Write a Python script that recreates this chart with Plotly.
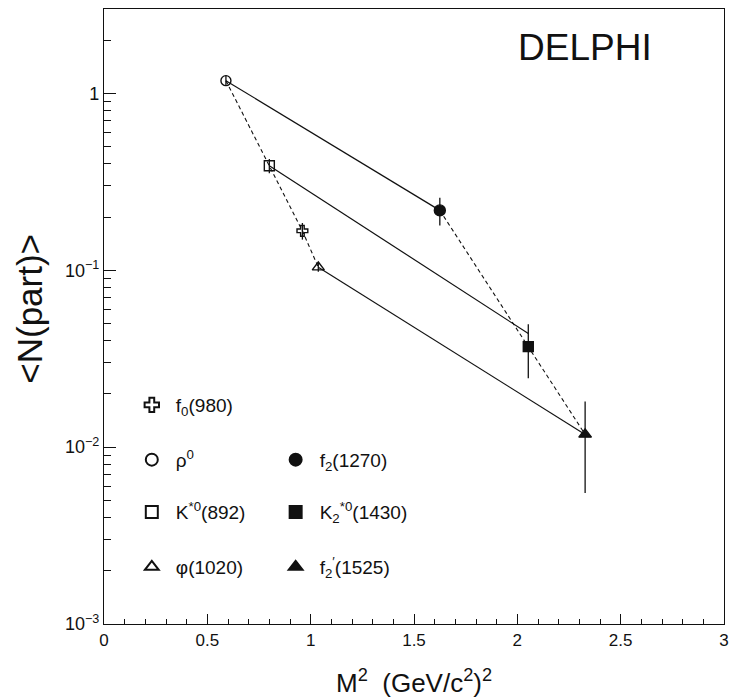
import plotly.graph_objects as go

# Mean multiplicity per hadronic event vs. squared mass, DELPHI
particle_labels = [
    "\u03c1<sup>0</sup>",
    "K<sup>*0</sup>(892)",
    "f<sub>0</sub>(980)",
    "\u03c6(1020)",
    "f<sub>2</sub>(1270)",
    "K<sub>2</sub><sup>*0</sup>(1430)",
    "f<sub>2</sub><sup>\u2032</sup>(1525)",
]
m2_values = [0.59, 0.80, 0.96, 1.037, 1.625, 2.053, 2.328]
n_part = [1.18, 0.39, 0.167, 0.104, 0.218, 0.037, 0.0118]
n_part_err = [0.08, 0.036, 0.018, 0.006, 0.039, 0.0125, 0.0063]
marker_symbols = ["circle-open", "square-open", "cross-open", "triangle-up-open",
                  "circle", "square", "triangle-up"]
marker_sizes = [10, 10, 9, 10.5, 11, 10, 11]

# indices of the light states and of their tensor partners, ordered in M^2
light_idx = [0, 1, 2, 3]
tensor_idx = [4, 5, 6]

# solid lines joining each light state to its tensor partner
trend_x_start = [0.59, 0.80, 1.037]
trend_y_start = [1.18, 0.39, 0.104]
trend_x_end = [1.625, 2.053, 2.328]
trend_y_end = [0.218, 0.0439, 0.0118]

# legend placement (paper coordinates) for each particle
legend_x = [0.0384, 0.0384, 0.0384, 0.0384, 0.2704, 0.2704, 0.2704]
legend_y = [0.267, 0.182, 0.356, 0.0927, 0.267, 0.182, 0.0927]

y_tick_vals = [1e-3, 1e-2, 1e-1, 1]
y_tick_text = ["10<sup>\u22123</sup>", "10<sup>\u22122</sup>", "10<sup>\u22121</sup>", "1"]
x_tick_vals = [0, 0.5, 1, 1.5, 2, 2.5, 3]
x_tick_text = ["0", "0.5", "1", "1.5", "2", "2.5", "3"]

FONT = "Liberation Sans, Arial, Helvetica, sans-serif"
BLACK = "#111111"

fig = go.Figure()

for xs, ys, xe, ye in zip(trend_x_start, trend_y_start, trend_x_end, trend_y_end):
    fig.add_trace(go.Scatter(x=[xs, xe], y=[ys, ye], mode="lines",
                             line=dict(color=BLACK, width=1.2),
                             showlegend=False, hoverinfo="skip"))

for group in (light_idx, tensor_idx):
    fig.add_trace(go.Scatter(x=[m2_values[i] for i in group],
                             y=[n_part[i] for i in group],
                             mode="lines",
                             line=dict(color=BLACK, width=1.1, dash="4px,3px"),
                             showlegend=False, hoverinfo="skip"))

for i, label in enumerate(particle_labels):
    legend_name = "legend" if i == 0 else f"legend{i + 1}"
    fig.add_trace(go.Scatter(
        x=[m2_values[i]], y=[n_part[i]], mode="markers", name=label,
        marker=dict(symbol=marker_symbols[i], size=marker_sizes[i], color=BLACK,
                    line=dict(color=BLACK, width=1.4)),
        error_y=dict(type="data", array=[n_part_err[i]], width=0,
                     thickness=1.3, color=BLACK),
        legend=legend_name, showlegend=True))

legend_layout = {}
for i in range(len(particle_labels)):
    key = "legend" if i == 0 else f"legend{i + 1}"
    legend_layout[key] = dict(
        x=legend_x[i], y=legend_y[i], xanchor="left", yanchor="middle",
        xref="paper", yref="paper", bgcolor="rgba(0,0,0,0)", borderwidth=0,
        font=dict(family=FONT, size=19, color=BLACK), itemwidth=38,
        itemsizing="constant")

fig.update_layout(
    width=734, height=698,
    margin=dict(l=104, r=5, t=9, b=74),
    paper_bgcolor="white", plot_bgcolor="white",
    font=dict(family=FONT, color=BLACK),
    **legend_layout,
    xaxis=dict(range=[0, 3], tickvals=x_tick_vals, ticktext=x_tick_text,
               ticks="inside", ticklen=10, tickwidth=1, tickcolor=BLACK,
               minor=dict(ticks="inside", ticklen=5, dtick=0.1, tickcolor=BLACK),
               showline=True, linecolor=BLACK, linewidth=1.2, mirror=True,
               showgrid=False, zeroline=False,
               tickfont=dict(family=FONT, size=17, color=BLACK)),
    yaxis=dict(type="log", range=[-3, 0.477], tickvals=y_tick_vals,
               ticktext=y_tick_text,
               ticks="inside", ticklen=12, tickwidth=1, tickcolor=BLACK,
               minor=dict(ticks="inside", ticklen=7, dtick="D1", tickcolor=BLACK),
               showline=True, linecolor=BLACK, linewidth=1.2, mirror=True,
               showgrid=False, zeroline=False,
               tickfont=dict(family=FONT, size=18, color=BLACK)),
    annotations=[
        dict(text="DELPHI", x=0.776, y=0.9366, xref="paper", yref="paper",
             showarrow=False, xanchor="center", yanchor="middle",
             font=dict(family=FONT, size=37, color=BLACK)),
        dict(text="M<sup>2</sup>\u00a0\u00a0(GeV/c<sup>2</sup>)<sup>2</sup>",
             x=0.5, y=-0.094, xref="paper", yref="paper", showarrow=False,
             xanchor="center", yanchor="middle",
             font=dict(family=FONT, size=26, color=BLACK)),
        dict(text="&lt;N(part)&gt;", x=-0.12, y=0.512, xref="paper",
             yref="paper", showarrow=False, textangle=-90,
             xanchor="center", yanchor="middle",
             font=dict(family=FONT, size=35, color=BLACK)),
    ],
)

fig.write_html("out.html")
